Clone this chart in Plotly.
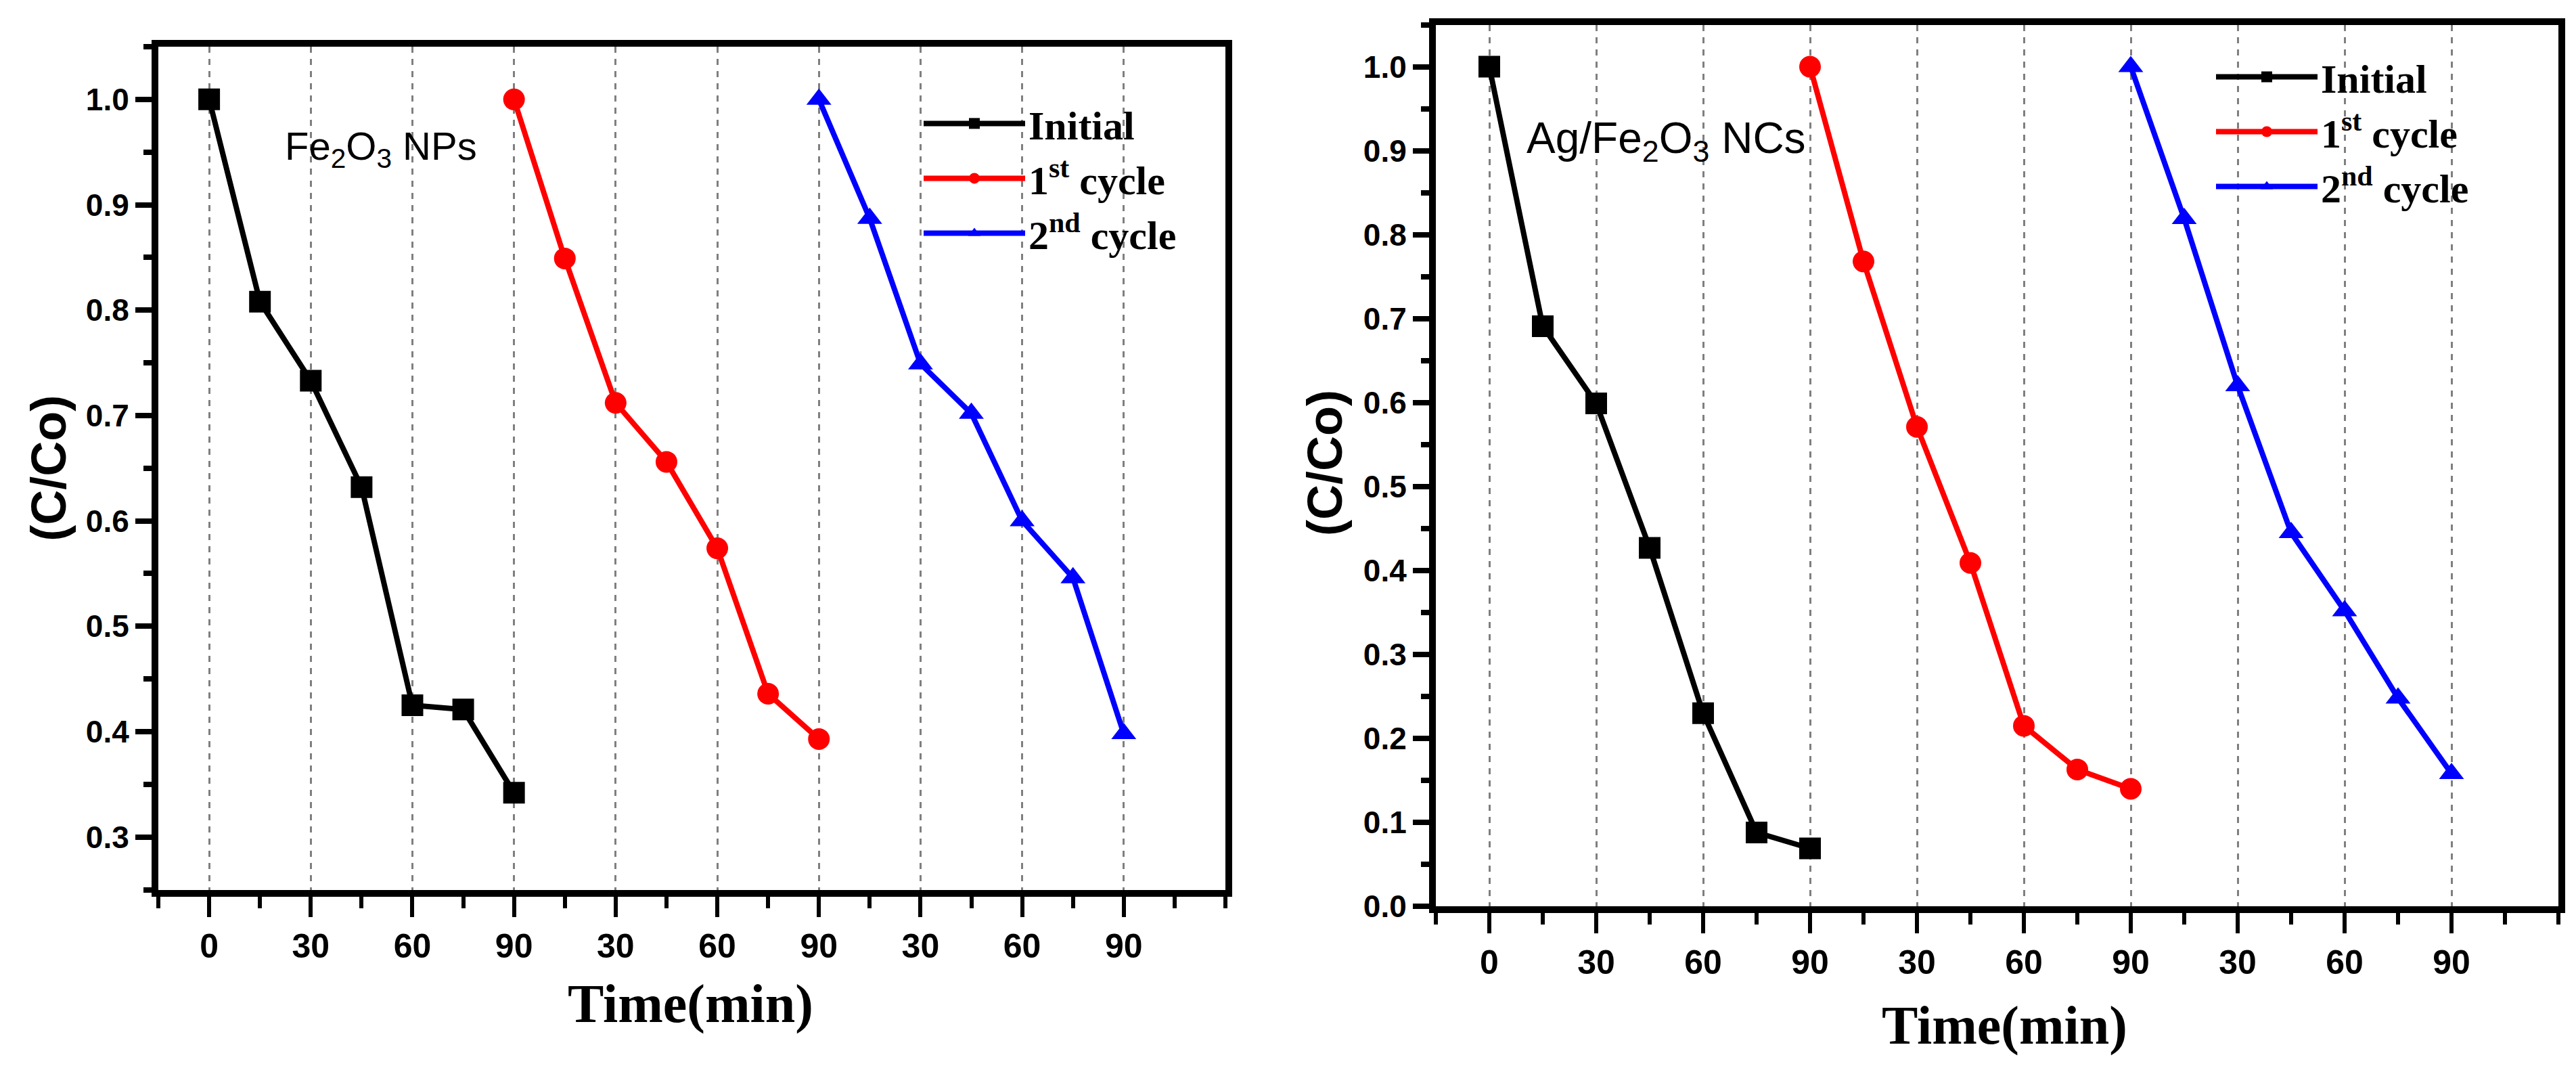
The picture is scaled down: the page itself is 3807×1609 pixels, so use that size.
import plotly.graph_objects as go

# ---------------- data ----------------
time_min = [0, 15, 30, 45, 60, 75, 90]
cycle_offsets = [0, 90, 180]
cycle_names = ["Initial", "1<sup>st</sup> cycle", "2<sup>nd</sup> cycle"]
cycle_colors = ["#000000", "#ff0000", "#0000ff"]
cycle_symbols = ["square", "circle", "triangle-up"]

fe2o3_initial = [1.0, 0.808, 0.733, 0.632, 0.425, 0.421, 0.342]
fe2o3_cycle1 = [1.0, 0.849, 0.712, 0.656, 0.574, 0.436, 0.393]
fe2o3_cycle2 = [1.0, 0.887, 0.749, 0.702, 0.600, 0.546, 0.398]

agfe2o3_initial = [1.0, 0.691, 0.599, 0.427, 0.230, 0.088, 0.069]
agfe2o3_cycle1 = [1.0, 0.768, 0.571, 0.409, 0.215, 0.163, 0.140]
agfe2o3_cycle2 = [1.0, 0.819, 0.620, 0.445, 0.352, 0.248, 0.158]

x_tick_vals = [0, 30, 60, 90, 120, 150, 180, 210, 240, 270]
x_tick_labels = ["0", "30", "60", "90", "30", "60", "90", "30", "60", "90"]
x_minor_vals = [-15, 15, 45, 75, 105, 135, 165, 195, 225, 255, 285, 300]

W, H = 3807, 1609
SERIF = "Liberation Serif"
SANS = "Liberation Sans"

fig = go.Figure()

panels = [
    (["x", "y"], "legend", [fe2o3_initial, fe2o3_cycle1, fe2o3_cycle2]),
    (["x2", "y2"], "legend2", [agfe2o3_initial, agfe2o3_cycle1, agfe2o3_cycle2]),
]
for (xa, ya), leg, series in panels:
    for k, vals in enumerate(series):
        fig.add_trace(go.Scatter(
            x=[t + cycle_offsets[k] for t in time_min],
            y=vals,
            xaxis=xa, yaxis=ya,
            mode="lines+markers",
            name=cycle_names[k],
            legend=leg,
            line=dict(color=cycle_colors[k], width=8),
            marker=dict(symbol=cycle_symbols[k], size=32, color=cycle_colors[k]),
        ))

def xaxis_cfg(domain, anchor):
    return dict(
        domain=domain, anchor=anchor, range=[-15, 300],
        tickmode="array", tickvals=x_tick_vals, ticktext=x_tick_labels,
        ticks="outside", ticklen=30, tickwidth=6, tickcolor="black",
        minor=dict(tickmode="array", tickvals=x_minor_vals,
                   ticks="outside", ticklen=17, tickwidth=6, tickcolor="black", showgrid=False),
        tickfont=dict(family=SANS, size=50, color="black", weight="bold"),
        showline=True, linecolor="black", linewidth=10, mirror=True,
        showgrid=True, gridcolor="#7f7f7f", gridwidth=3, griddash="dash",
        zeroline=False,
    )

def yaxis_cfg(domain, anchor, rng, tick0):
    return dict(
        domain=domain, anchor=anchor, range=rng,
        tickmode="linear", tick0=tick0, dtick=0.1, tickformat=".1f",
        ticks="outside", ticklen=24, tickwidth=8, tickcolor="black",
        minor=dict(tick0=tick0 + 0.05, dtick=0.1, ticks="outside", ticklen=12, tickwidth=8,
                   tickcolor="black", showgrid=False),
        tickfont=dict(family=SANS, size=46, color="black", weight="bold"),
        showline=True, linecolor="black", linewidth=10, mirror=True,
        showgrid=False, zeroline=False,
    )

legend_font = dict(family=SERIF, size=60, color="black", weight="bold")

fig.update_layout(
    width=W, height=H,
    margin=dict(l=0, r=0, t=0, b=0),
    paper_bgcolor="white", plot_bgcolor="white",
    xaxis=xaxis_cfg([226 / W, 1803 / W], "y"),
    yaxis=yaxis_cfg([1 - 1328 / H, 1 - 62 / H], "x", [0.25, 1.05], 0.3),
    xaxis2=xaxis_cfg([2114 / W, 3773 / W], "y2"),
    yaxis2=yaxis_cfg([1 - 1353 / H, 1 - 29 / H], "x2", [0.0, 1.05], 0.0),
    legend=dict(x=1352 / W, y=1 - 131 / H, xanchor="left", yanchor="top",
                bgcolor="rgba(0,0,0,0)", borderwidth=0, itemwidth=150,
                font=legend_font, tracegroupgap=0),
    legend2=dict(x=3262 / W, y=1 - 61 / H, xanchor="left", yanchor="top",
                 bgcolor="rgba(0,0,0,0)", borderwidth=0, itemwidth=150,
                 font=legend_font, tracegroupgap=0),
    showlegend=True,
)

annotations = [
    dict(text="Fe<sub>2</sub>O<sub>3</sub> NPs", x=22, y=0.953, xref="x", yref="y",
         xanchor="left", yanchor="middle", showarrow=False,
         font=dict(family=SANS, size=58, color="black")),
    dict(text="Ag/Fe<sub>2</sub>O<sub>3</sub> NCs", x=10, y=0.912, xref="x2", yref="y2",
         xanchor="left", yanchor="middle", showarrow=False,
         font=dict(family=SANS, size=64, color="black")),
    dict(text="(C/Co)", x=64 / W, y=1 - 695 / H, xref="paper", yref="paper",
         xanchor="center", yanchor="middle", textangle=-90, showarrow=False,
         font=dict(family=SANS, size=72, color="black", weight="bold")),
    dict(text="(C/Co)", x=1950 / W, y=1 - 687 / H, xref="paper", yref="paper",
         xanchor="center", yanchor="middle", textangle=-90, showarrow=False,
         font=dict(family=SANS, size=72, color="black", weight="bold")),
    dict(text="Time(min)", x=1013 / W, y=1 - 1500 / H, xref="paper", yref="paper",
         xanchor="center", yanchor="middle", showarrow=False,
         font=dict(family=SERIF, size=80, color="black", weight="bold")),
    dict(text="Time(min)", x=2954 / W, y=1 - 1532 / H, xref="paper", yref="paper",
         xanchor="center", yanchor="middle", showarrow=False,
         font=dict(family=SERIF, size=80, color="black", weight="bold")),
]
fig.update_layout(annotations=annotations)

fig.write_html("out.html")
